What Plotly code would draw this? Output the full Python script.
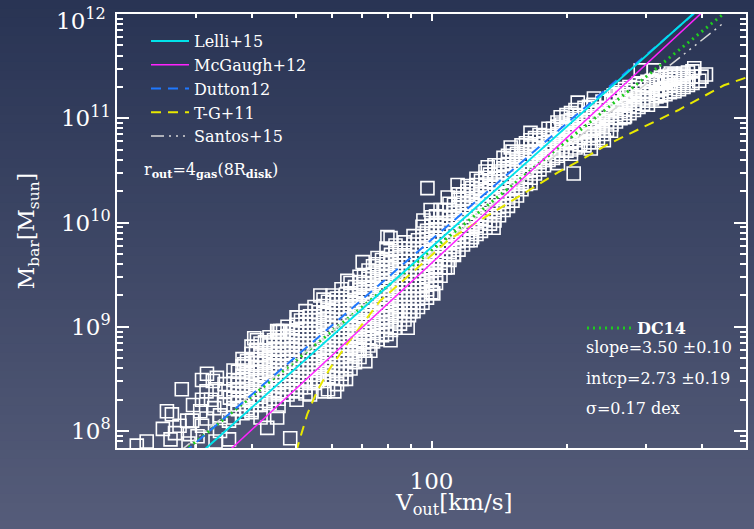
import numpy as np
import plotly.graph_objects as go

# ---------------- data (log10 values) ----------------
# dense part of the galaxy sample, grouped in columns of log10(V_out)
core_logv = [1.56, 1.58, 1.60, 1.62, 1.64, 1.66, 1.68, 1.70, 1.72, 1.74, 1.76, 1.78,
             1.80, 1.82, 1.84, 1.86, 1.88, 1.90, 1.92, 1.94, 1.96, 1.98, 2.00, 2.02,
             2.04, 2.06, 2.08, 2.10, 2.12, 2.14, 2.16, 2.18, 2.20, 2.22, 2.24, 2.26,
             2.28, 2.30, 2.32, 2.34, 2.36, 2.38, 2.40, 2.42, 2.44, 2.46, 2.48, 2.50,
             2.52, 2.54, 2.56, 2.58]
core_logm = [
    [8.13, 8.22, 8.31, 8.40, 8.49, 8.58],
    [8.17, 8.26, 8.35, 8.44, 8.53, 8.62, 8.69],
    [8.20, 8.29, 8.38, 8.47, 8.56, 8.65, 8.74, 8.81],
    [8.25, 8.33, 8.41, 8.49, 8.57, 8.65, 8.73, 8.84],
    [8.27, 8.35, 8.43, 8.51, 8.59, 8.67, 8.75, 8.83, 8.90],
    [8.31, 8.38, 8.46, 8.54, 8.62, 8.70, 8.78, 8.86, 8.95],
    [8.35, 8.43, 8.51, 8.59, 8.67, 8.75, 8.83, 8.91, 9.00],
    [8.38, 8.46, 8.54, 8.62, 8.70, 8.78, 8.86, 8.94, 9.02, 9.09],
    [8.42, 8.50, 8.58, 8.66, 8.74, 8.82, 8.90, 8.98, 9.06, 9.15],
    [8.46, 8.54, 8.62, 8.70, 8.78, 8.86, 8.94, 9.02, 9.10, 9.19],
    [8.48, 8.56, 8.64, 8.72, 8.80, 8.88, 8.96, 9.04, 9.12, 9.20, 9.26],
    [8.51, 8.59, 8.67, 8.75, 8.83, 8.91, 8.99, 9.07, 9.15, 9.23, 9.30],
    [8.55, 8.63, 8.71, 8.79, 8.87, 8.95, 9.03, 9.11, 9.19, 9.27, 9.36],
    [8.60, 8.68, 8.76, 8.84, 8.92, 9.00, 9.08, 9.16, 9.24, 9.32, 9.42],
    [8.71, 8.79, 8.87, 8.95, 9.03, 9.11, 9.19, 9.27, 9.35, 9.43, 9.48],
    [8.82, 8.90, 8.98, 9.06, 9.14, 9.22, 9.30, 9.38, 9.46, 9.54],
    [8.88, 8.96, 9.04, 9.12, 9.20, 9.28, 9.36, 9.44, 9.52, 9.60, 9.66],
    [8.93, 9.01, 9.09, 9.17, 9.25, 9.33, 9.41, 9.49, 9.57, 9.65, 9.75],
    [8.99, 9.07, 9.15, 9.23, 9.31, 9.39, 9.47, 9.55, 9.63, 9.71, 9.78],
    [9.07, 9.15, 9.23, 9.31, 9.39, 9.47, 9.55, 9.63, 9.71, 9.81],
    [9.15, 9.23, 9.31, 9.39, 9.47, 9.55, 9.63, 9.71, 9.79, 9.87],
    [9.23, 9.31, 9.39, 9.47, 9.55, 9.63, 9.71, 9.79, 9.87, 9.96],
    [9.33, 9.41, 9.49, 9.57, 9.65, 9.73, 9.81, 9.89, 9.97, 10.05],
    [9.49, 9.57, 9.65, 9.73, 9.81, 9.89, 9.97, 10.05, 10.12],
    [9.64, 9.72, 9.80, 9.88, 9.96, 10.04, 10.12, 10.18],
    [9.74, 9.82, 9.90, 9.98, 10.06, 10.14, 10.22, 10.27],
    [9.83, 9.91, 9.99, 10.07, 10.15, 10.23, 10.30, 10.35],
    [9.89, 9.97, 10.05, 10.13, 10.21, 10.29, 10.36, 10.42],
    [9.95, 10.03, 10.11, 10.19, 10.27, 10.35, 10.43, 10.49],
    [10.02, 10.10, 10.18, 10.26, 10.34, 10.42, 10.49, 10.55],
    [10.12, 10.20, 10.28, 10.36, 10.44, 10.52, 10.62],
    [10.21, 10.29, 10.37, 10.45, 10.53, 10.61, 10.68],
    [10.32, 10.40, 10.48, 10.56, 10.64, 10.74],
    [10.43, 10.50, 10.57, 10.64, 10.72, 10.79],
    [10.51, 10.58, 10.65, 10.72, 10.79, 10.84],
    [10.60, 10.67, 10.74, 10.81, 10.90],
    [10.64, 10.71, 10.78, 10.85, 10.92, 10.96],
    [10.69, 10.76, 10.83, 10.90, 10.97, 11.03],
    [10.72, 10.79, 10.86, 10.93, 11.00, 11.08],
    [10.74, 10.81, 10.88, 10.95, 11.02, 11.10],
    [10.77, 10.84, 10.91, 10.98, 11.05, 11.13],
    [10.85, 10.92, 10.99, 11.06, 11.16],
    [10.94, 11.01, 11.08, 11.15, 11.20],
    [11.00, 11.07, 11.14, 11.21, 11.25],
    [11.05, 11.12, 11.19, 11.26, 11.30],
    [11.11, 11.18, 11.25, 11.33],
    [11.17, 11.23, 11.29, 11.35],
    [11.21, 11.27, 11.33, 11.37],
    [11.23, 11.29, 11.35, 11.40],
    [11.26, 11.32, 11.38, 11.42],
    [11.30, 11.36, 11.43],
    [11.34, 11.40, 11.45],
]

# further galaxies of the dense part, in the columns in between
core2_logv = [1.57, 1.59, 1.61, 1.63, 1.65, 1.67, 1.69, 1.71, 1.73, 1.75, 1.77, 1.79,
              1.81, 1.83, 1.85, 1.87, 1.89, 1.91, 1.93, 1.95, 1.97, 1.99, 2.01, 2.03,
              2.05, 2.07, 2.09, 2.11, 2.13, 2.15, 2.17, 2.19, 2.21, 2.23, 2.25, 2.27,
              2.29, 2.31, 2.33, 2.35, 2.37, 2.39, 2.41, 2.43, 2.45, 2.47, 2.49, 2.51,
              2.53, 2.55, 2.57]
core2_logm = [
    [8.21, 8.30, 8.39, 8.48, 8.57],
    [8.22, 8.31, 8.40, 8.49, 8.58, 8.67],
    [8.25, 8.33, 8.42, 8.51, 8.60, 8.69, 8.78],
    [8.29, 8.37, 8.45, 8.53, 8.61, 8.69, 8.77, 8.85],
    [8.31, 8.39, 8.47, 8.55, 8.63, 8.71, 8.79, 8.87],
    [8.35, 8.42, 8.50, 8.58, 8.66, 8.74, 8.82, 8.90, 8.96],
    [8.39, 8.47, 8.55, 8.63, 8.71, 8.79, 8.87, 8.95],
    [8.42, 8.50, 8.58, 8.66, 8.74, 8.82, 8.90, 8.98, 9.06],
    [8.46, 8.54, 8.62, 8.70, 8.78, 8.86, 8.94, 9.02, 9.10],
    [8.50, 8.58, 8.66, 8.74, 8.82, 8.90, 8.98, 9.06, 9.14],
    [8.52, 8.60, 8.68, 8.76, 8.84, 8.92, 9.00, 9.08, 9.16, 9.24],
    [8.55, 8.63, 8.71, 8.79, 8.87, 8.95, 9.03, 9.11, 9.19, 9.27],
    [8.59, 8.67, 8.75, 8.83, 8.91, 8.99, 9.07, 9.15, 9.23, 9.31],
    [8.66, 8.74, 8.82, 8.90, 8.98, 9.06, 9.14, 9.22, 9.30, 9.38],
    [8.77, 8.85, 8.93, 9.01, 9.09, 9.17, 9.25, 9.33, 9.41, 9.49],
    [8.86, 8.94, 9.02, 9.10, 9.18, 9.26, 9.34, 9.42, 9.50, 9.58],
    [8.92, 9.00, 9.08, 9.16, 9.24, 9.32, 9.40, 9.48, 9.56, 9.64],
    [8.97, 9.05, 9.13, 9.21, 9.29, 9.37, 9.45, 9.53, 9.61, 9.69],
    [9.03, 9.11, 9.19, 9.27, 9.35, 9.43, 9.51, 9.59, 9.67, 9.75],
    [9.11, 9.19, 9.27, 9.35, 9.43, 9.51, 9.59, 9.67, 9.75],
    [9.19, 9.27, 9.35, 9.43, 9.51, 9.59, 9.67, 9.75, 9.83],
    [9.28, 9.36, 9.44, 9.52, 9.60, 9.68, 9.76, 9.84, 9.92],
    [9.42, 9.50, 9.58, 9.66, 9.74, 9.82, 9.90, 9.98, 10.06],
    [9.57, 9.65, 9.73, 9.81, 9.89, 9.97, 10.05, 10.12],
    [9.69, 9.77, 9.85, 9.93, 10.01, 10.09, 10.17],
    [9.79, 9.87, 9.95, 10.03, 10.11, 10.19, 10.27],
    [9.86, 9.94, 10.02, 10.10, 10.18, 10.26, 10.33],
    [9.92, 10.00, 10.08, 10.16, 10.24, 10.32, 10.40],
    [9.99, 10.07, 10.15, 10.23, 10.31, 10.39, 10.46],
    [10.07, 10.15, 10.23, 10.31, 10.39, 10.47, 10.55],
    [10.16, 10.24, 10.32, 10.40, 10.48, 10.56, 10.64],
    [10.26, 10.34, 10.42, 10.50, 10.58, 10.66],
    [10.37, 10.44, 10.52, 10.60, 10.68, 10.76],
    [10.47, 10.54, 10.61, 10.68, 10.75, 10.81],
    [10.55, 10.62, 10.69, 10.76, 10.83],
    [10.62, 10.69, 10.76, 10.83, 10.90],
    [10.66, 10.73, 10.80, 10.87, 10.94],
    [10.70, 10.77, 10.84, 10.91, 10.98, 11.05],
    [10.75, 10.82, 10.89, 10.96, 11.03],
    [10.77, 10.84, 10.91, 10.98, 11.05, 11.11],
    [10.81, 10.88, 10.95, 11.02, 11.09],
    [10.89, 10.96, 11.03, 11.10, 11.17],
    [10.97, 11.04, 11.11, 11.18, 11.23],
    [11.02, 11.09, 11.16, 11.23, 11.28],
    [11.08, 11.15, 11.22, 11.29],
    [11.14, 11.20, 11.26, 11.32],
    [11.19, 11.25, 11.31, 11.36],
    [11.22, 11.28, 11.34, 11.39],
    [11.25, 11.31, 11.37, 11.41],
    [11.28, 11.34, 11.40],
    [11.32, 11.38, 11.44],
]

# individual galaxies on the edges of the cloud / outliers
edge_logv = [1.345, 1.367, 1.403, 1.412, 1.423, 1.430, 1.445, 1.457, 1.463, 1.468,
             1.486, 1.490, 1.501, 1.514, 1.517, 1.523, 1.541, 1.552,
             1.48, 1.49, 1.50, 1.51, 1.52, 1.53, 1.53, 1.54, 1.54, 1.50, 1.47, 1.44,
             1.42, 1.46, 1.55, 1.55, 1.52, 1.49,
             1.584, 1.606, 1.628, 1.641, 1.657, 1.635, 1.657, 1.686, 1.746, 1.762,
             1.784, 1.853,
             1.612, 1.664, 1.702, 1.753, 1.813, 1.847, 1.902, 1.909, 1.982, 1.998,
             1.864, 1.909, 1.947, 1.953, 2.004, 2.036, 2.049,
             1.991, 2.036, 2.058, 2.125, 2.176, 2.220,
             2.087, 2.138, 2.220, 2.281, 2.249, 2.310, 2.316, 2.354, 2.383, 2.399,
             2.428, 2.481, 2.510,
             2.287, 2.325, 2.361, 2.405, 2.488, 2.532, 2.584, 2.559, 2.526, 2.503,
             2.465, 2.494,
             1.60, 1.62, 1.66, 1.70, 1.72, 1.80, 1.73, 1.77, 1.79, 1.81,
             2.60, 2.61, 2.595]
edge_logm = [7.86, 7.90, 8.02, 8.19, 8.16, 7.98, 8.40, 8.10, 7.97, 8.10,
             8.19, 8.49, 8.55, 8.48, 8.22, 8.51, 8.38, 8.32,
             7.95, 8.05, 8.12, 8.30, 7.90, 8.00, 8.15, 8.25, 8.45, 8.38, 8.25, 8.05,
             7.92, 7.88, 7.92, 8.10, 8.40, 8.30,
             8.64, 8.89, 8.67, 8.82, 8.96, 8.03, 8.13, 7.93, 8.48, 8.38,
             8.38, 8.67,
             8.87, 8.96, 9.09, 9.30, 9.44, 9.62, 9.86, 9.85, 10.02, 10.12,
             8.77, 8.87, 8.99, 9.15, 9.32, 9.57, 9.70,
             10.33, 10.24, 10.36, 10.53, 10.72, 10.86,
             9.83, 9.95, 10.38, 10.57, 10.60, 10.66, 10.47, 10.71, 10.79, 10.88,
             11.01, 11.13, 11.17,
             11.01, 11.15, 11.19, 11.22, 11.35, 11.43, 11.48, 11.41, 11.34, 11.24,
             11.46, 11.46,
             8.18, 8.13, 8.24, 8.30, 8.36, 8.50, 8.35, 8.40, 8.45, 8.50,
             11.40, 11.42, 11.36]

# published relations (log10 V, log10 M)
lelli_logv = [1.45, 2.62]
lelli_logm = [7.646, 12.150]
mcgaugh_logv = [1.50, 2.62]
mcgaugh_logm = [7.61, 12.09]
dutton_logv = [1.45, 2.62]
dutton_logm = [7.79, 12.14]
tg_logv = [1.699, 1.708, 1.724, 1.746, 1.775, 1.813, 1.835, 1.886, 2.004, 2.036,
           2.071, 2.143, 2.214, 2.281, 2.332, 2.392, 2.465, 2.548, 2.650, 2.702, 2.72]
tg_logm = [7.80, 7.933, 8.163, 8.385, 8.606, 8.837, 8.962, 9.25, 9.70, 9.827,
           9.923, 10.115, 10.308, 10.481, 10.60, 10.75, 10.904, 11.077, 11.317, 11.394, 11.434]
santos_logv = [1.44, 2.646]
santos_logm = [7.804, 11.904]
dc14_logv = [1.44, 2.66]
dc14_logm = [7.77, 12.04]

x_minor = [30, 40, 50, 60, 70, 80, 90, 200, 300, 400]
y_major = [1e8, 1e9, 1e10, 1e11, 1e12]
# the top label (10^12) is drawn as a separate text, nudged down like the original
y_major_text = ["10<sup>8</sup>", "10<sup>9</sup>", "10<sup>10</sup>",
                "10<sup>11</sup>", ""]
top_label = "10<sup>12</sup>"
y_minor = [m * 10.0 ** e for e in range(7, 12) for m in range(2, 10)]

# ---------------- figure ----------------
W, H = 754, 529
ML, MR, MT, MB = 117, 8, 14, 81
PW, PH = W - ML - MR, H - MT - MB

all_logv = []
all_logm = []
for cols_v, cols_m in ((core_logv, core_logm), (core2_logv, core2_logm)):
    for v, ms in zip(cols_v, cols_m):
        for m in ms:
            all_logv.append(v)
            all_logm.append(m)
all_logv += edge_logv
all_logm += edge_logm

SERIF = "DejaVu Serif"
fig = go.Figure()
fig.add_trace(go.Scatter(
    x=10 ** np.array(all_logv), y=10 ** np.array(all_logm), mode="markers",
    marker=dict(symbol="square-open", size=13, color="white",
                line=dict(width=1.6, color="white")),
    showlegend=False, hoverinfo="skip"))


def rel(lv, lm, name, color, width, dash, legend="legend"):
    fig.add_trace(go.Scatter(
        x=10 ** np.array(lv), y=10 ** np.array(lm), mode="lines", name=name,
        line=dict(color=color, width=width, dash=dash), legend=legend,
        hoverinfo="skip"))


rel(dc14_logv, dc14_logm, "<b>DC14</b>", "#1fcc1f", 3, "2px,4px", legend="legend2")
rel(santos_logv, santos_logm, "Santos+15", "#d8d8d8", 1.5,
    "13px,5px,2px,5px,2px,5px,2px,5px")
rel(tg_logv, tg_logm, "T-G+11", "#e8e800", 2, "10px,7px")
rel(dutton_logv, dutton_logm, "Dutton12", "#1f78ff", 2, "10px,7px")
rel(mcgaugh_logv, mcgaugh_logm, "McGaugh+12", "#ff22ff", 1.5, "solid")
rel(lelli_logv, lelli_logm, "Lelli+15", "#00e2ea", 2, "solid")

# background gradient (slide background)
top = np.array([41, 52, 84])
bot = np.array([86, 93, 122])
shapes = []
nb = 60
for i in range(nb):
    p0 = i * H / nb
    p1 = (i + 1) * H / nb + 1
    c = top + (bot - top) * (i + 0.5) / nb
    shapes.append(dict(
        type="rect", xref="paper", yref="paper", layer="below",
        x0=-ML / PW - 0.05, x1=(W - ML) / PW + 0.05,
        y0=(H - MB - p1) / PH, y1=(H - MB - p0) / PH,
        line=dict(width=0), fillcolor="rgb(%d,%d,%d)" % tuple(c.astype(int))))


def px_x(p):
    return (p - ML) / PW


def px_y(p):
    return (H - MB - p) / PH


axis_common = dict(showline=True, linecolor="white", linewidth=1.5, mirror="ticks",
                   ticks="inside", tickcolor="white", tickwidth=1.5,
                   showgrid=False, zeroline=False, ticklabeloverflow="allow",
                   automargin=False,
                   tickfont=dict(family=SERIF, size=23, color="white"))

fig.update_layout(
    width=W, height=H, margin=dict(l=ML, r=MR, t=MT, b=MB, autoexpand=False),
    font=dict(family=SERIF, color="white", size=16),
    paper_bgcolor="rgb(41,52,84)", plot_bgcolor="rgba(0,0,0,0)",
    shapes=shapes,
    xaxis=dict(type="log", range=[np.log10(20), np.log10(500)],
               tickvals=[100], ticktext=["100"], ticklen=7,
               ticklabelstandoff=12,
               minor=dict(ticks="inside", ticklen=4, tickvals=x_minor,
                          tickcolor="white", tickwidth=1.5, showgrid=False),
               **axis_common),
    yaxis=dict(type="log", range=[7.837, 12.0006], tickvals=y_major,
               ticktext=y_major_text, ticklen=12,
               minor=dict(ticks="inside", ticklen=6, tickvals=y_minor,
                          tickcolor="white", tickwidth=1.5, showgrid=False),
               title=dict(text="M<sub>bar</sub>[M<sub>sun</sub>]",
                          font=dict(family=SERIF, size=22, color="white"),
                          standoff=20),
               **axis_common),
    legend=dict(x=px_x(146), y=px_y(24), xanchor="left", yanchor="top",
                bgcolor="rgba(0,0,0,0)", traceorder="reversed",
                font=dict(family=SERIF, size=16, color="white"),
                itemwidth=38, tracegroupgap=0),
    legend2=dict(x=px_x(582), y=px_y(311), xanchor="left", yanchor="top",
                 bgcolor="rgba(0,0,0,0)",
                 font=dict(family=SERIF, size=16, color="white"),
                 itemwidth=45),
    showlegend=True,
)

ann_font = dict(family=SERIF, size=16, color="white")
annotations = [
    dict(text=top_label, x=px_x(108), y=px_y(19), xanchor="right",
         yanchor="middle", font=dict(family=SERIF, size=23, color="white")),
    dict(text="r<sub><b>out</b></sub>=4<sub><b>gas</b></sub>(8R<sub><b>disk</b></sub>)",
         x=px_x(142), y=px_y(170), xanchor="left", yanchor="middle", font=ann_font),
    dict(text="slope=3.50 \u00b10.10", x=px_x(584), y=px_y(347),
         xanchor="left", yanchor="middle", font=ann_font),
    dict(text="intcp=2.73 \u00b10.19", x=px_x(584), y=px_y(378),
         xanchor="left", yanchor="middle", font=ann_font),
    dict(text="\u03c3=0.17 dex", x=px_x(584), y=px_y(408),
         xanchor="left", yanchor="middle", font=ann_font),
    dict(text="V<sub>out</sub>[km/s]", x=px_x(453), y=px_y(504),
         xanchor="center", yanchor="middle",
         font=dict(family=SERIF, size=23, color="white")),
]
for a in annotations:
    a.update(xref="paper", yref="paper", showarrow=False)
fig.update_layout(annotations=annotations)

fig.write_html("out.html")
